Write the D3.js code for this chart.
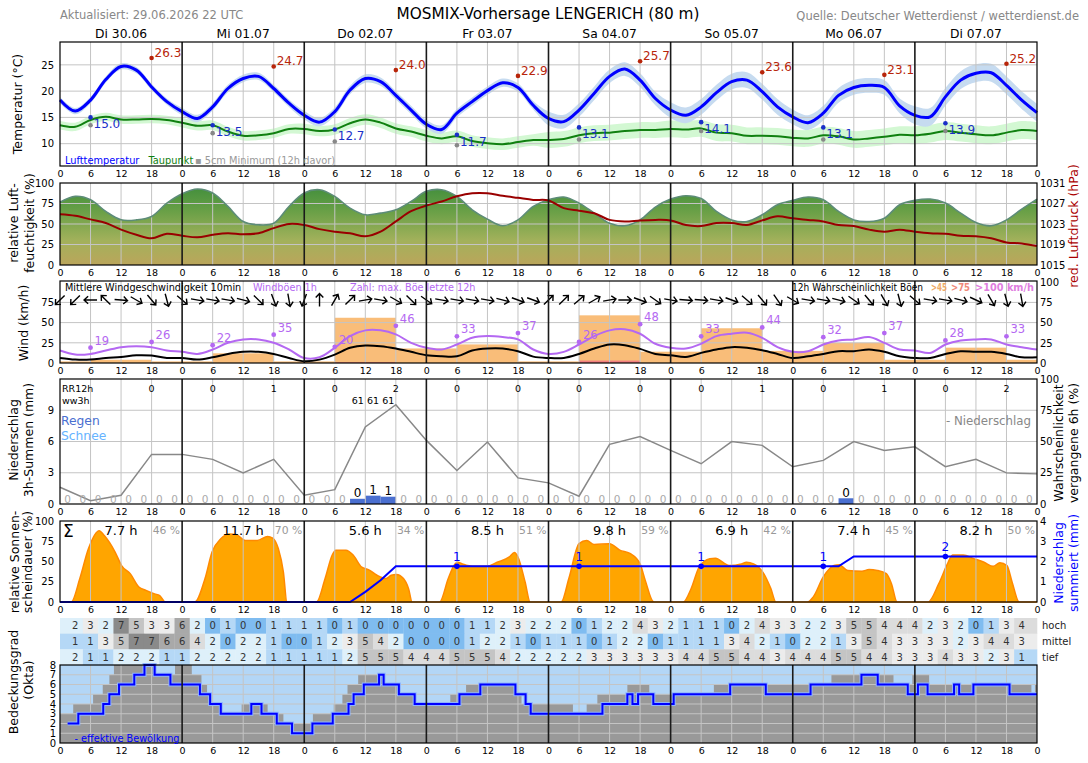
<!DOCTYPE html>
<html>
<head>
<meta charset="UTF-8">
<title>MOSMIX-Vorhersage LENGERICH</title>
<script src="https://cdn.jsdelivr.net/npm/d3@7"></script>
<style>
body { margin: 0; background: #fff; }
svg { display: block; }
</style>
</head>
<body>
<div id="chart"></div>
<script>
// ---------- data ----------
const days = ["Di 30.06", "Mi 01.07", "Do 02.07", "Fr 03.07", "Sa 04.07", "So 05.07", "Mo 06.07", "Di 07.07"];

// 3-hourly values, hour 0 .. 192
const temp = [18.3,16.2,18.3,22.2,24.7,24.0,20.8,18.0,
  16.1,14.8,17.0,20.5,22.4,22.8,20.5,17.7,
  15.4,14.1,16.1,20.2,22.4,21.8,19.2,16.4,
  13.7,12.7,15.8,18.0,20.1,21.6,20.7,17.3,
  14.8,14.2,16.4,19.6,22.8,24.2,22.1,18.6,
  16.4,15.4,17.0,19.7,21.8,22.1,19.9,17.0,
  15.1,14.0,15.8,19.2,20.7,21.1,20.7,17.2,
  15.4,15.1,18.9,22.1,23.4,23.5,21.1,18.3,
  15.9];
const tempSpread = [0.6, 0.7, 0.8, 0.8, 1.3, 1.5, 1.4, 1.7];
const dew = [13.5,13.2,14.5,15.1,14.6,14.6,14.7,14.5,
  14.0,13.4,13.5,12.3,11.5,11.6,12.0,12.8,
  12.8,12.4,12.7,13.9,14.6,14.0,12.9,12.3,
  11.5,11.0,11.4,10.5,10.1,9.9,10.3,10.7,
  10.7,10.9,11.6,12.0,12.1,12.4,12.6,12.6,
  12.8,12.7,12.9,12.1,12.0,11.5,11.5,11.4,
  11.1,11.0,11.6,11.4,10.8,11.0,11.3,11.7,
  11.6,11.9,12.4,12.1,11.8,11.6,12.1,12.6,
  12.4];
const dewSpread = [0.8, 0.9, 1.0, 1.1, 1.5, 1.6, 1.6, 1.7];
const tMax = [26.3, 24.7, 24.0, 22.9, 25.7, 23.6, 23.1, 25.2];
const tMin = [15.0, 13.5, 12.7, 11.7, 13.1, 14.1, 13.1, 13.9];
const tGround = [13.5, 12.0, 10.4, 9.7, 10.8, 12.4, 10.8, 12.4];

const humidity = [76.7,83.7,79.6,65.3,55.1,55.0,59.2,75.5,
  87.0,92.7,87.8,71.4,53.0,49.0,51.0,71.4,
  87.8,91.8,83.7,69.4,61.2,63.3,67.3,77.6,
  89.8,91.8,83.7,67.3,55.9,47.8,55.1,71.4,
  79.6,82.9,75.5,63.3,51.0,47.8,55.0,70.6,
  80.4,84.5,81.0,65.3,55.0,53.0,61.2,73.5,
  78.8,82.9,79.6,65.3,55.0,53.0,57.1,73.5,
  78.8,80.4,75.5,63.3,51.8,47.8,55.0,68.2,
  80.4];
const pressure = [1024.9,1024.6,1023.9,1023.2,1021.9,1020.9,1020.2,1021.1,
  1020.7,1020.4,1020.9,1021.2,1021.0,1021.2,1022.2,1023.0,
  1022.8,1022.0,1021.5,1021.2,1020.6,1021.5,1023.5,1025.5,
  1026.6,1027.4,1028.4,1029.0,1029.0,1028.5,1028.1,1027.7,
  1027.6,1026.1,1025.6,1025.1,1023.8,1023.5,1023.7,1023.8,
  1023.7,1022.8,1022.6,1023.2,1023.2,1022.8,1023.7,1024.5,
  1024.1,1023.8,1023.5,1022.8,1022.6,1021.9,1021.5,1021.9,
  1021.5,1021.2,1021.1,1020.7,1020.6,1020.2,1019.4,1019.2,
  1018.7];

const windMean = [6.2,4.2,4.2,6.2,7.5,9.6,9.2,6.2,
  6.2,4.2,7.1,11.2,13.8,13.8,11.2,6.2,
  2.1,4.2,10.4,18.8,21.7,20.8,17.9,13.8,
  9.6,8.3,8.3,15.4,17.9,17.9,14.6,7.9,
  6.2,6.2,11.2,17.9,22.9,22.1,17.5,11.2,
  9.6,7.5,12.5,16.7,19.6,18.8,15.8,11.2,
  6.2,8.3,11.2,14.6,14.6,16.7,13.8,8.3,
  6.2,6.2,11.2,14.6,13.8,13.8,11.2,7.1,
  7.1];
const windGust = [15.4,10.4,11.2,15.4,19.6,20.8,19.6,15.4,
  13.8,11.2,16.7,25.0,29.2,29.2,25.0,16.7,
  6.2,7.1,18.8,33.3,40.4,40.4,35.4,25.0,
  18.8,16.7,22.9,31.2,33.3,32.1,29.2,16.7,
  11.2,13.8,22.9,33.3,40.4,41.7,36.2,23.8,
  18.8,17.9,23.8,33.3,36.2,37.5,31.2,19.6,
  13.8,14.6,22.9,27.9,29.2,32.1,25.0,16.7,
  15.4,12.5,22.9,27.9,29.2,29.2,22.9,19.6,
  16.7];
// wind direction (arrow points to, degrees clockwise from north), hour 0 .. 189
const windDir = [225,225,270,315,95,120,140,165,
  130,100,100,100,105,135,160,170,
  200,0,30,45,80,100,120,135,
  125,100,100,100,100,105,110,110,
  45,45,50,60,80,90,110,125,
  100,95,95,100,110,130,140,145,
  120,100,100,105,125,140,150,165,
  130,100,100,105,115,150,165,170];
// max gust of last 12h, at hour 6, 18, 30 ...
const gustMax = [19, 26, 22, 35, 20, 46, 33, 37, 26, 48, 33, 44, 32, 37, 28, 33];
// 12h gust probability (%), periods starting at hour -6, 6, 18 ...
const gustProb45 = [2, 4, 2, 12, 2, 56, 18, 23, 2, 59, 14, 43, 15, 25, 4, 19, 4];
const gustProb75 = [0, 0, 0, 0, 0, 1, 0, 0, 0, 3, 0, 0, 0, 0, 0, 0, 0];

// precipitation probability, 6-hourly, hour 0 .. 192
const rainProb = [13.4,2.7,7,39.7,39.7,35.7,24.9,35.7,7,11.5,61.7,79.4,50.9,26.8,49.6,20.9,
  16.9,6.2,47.7,53.9,42.9,32.2,49.9,46.9,29.8,34.9,49.9,42.9,45.8,29.8,35.7,24.9,24.1];
const rainStart = [57, 60, 63, 153];
const rainAmount = [0.5, 0.8, 0.7, 0.55];
const rainLabel = ["0", "1", "1", "0"];
const rr12 = [0, 0, 1, 0, 2, 0, 0, 0, 0, 0, 1, 0, 1, 0, 2];   // at hour 18, 30, 42 ...
const ww3h = ["61", "61", "61"];                                // slots 57-60, 60-63, 63-66

// sunshine (%)
const sunH = [0,2.2,3.9,5.6,7.7,8.7,10.8,12.1,13.8,15.5,16.9,18.6,19.6,20.7,
  26.5,28.5,29.9,31.6,33.3,34.7,36.4,38.8,40.8,41.8,42.9,43.9,44.6,
  50.4,52.1,53.5,54.2,56.2,57.6,59.3,60.6,62.3,64.1,65.1,66.1,67.5,68.5,69.2,
  74.6,76.3,77.4,78.1,79.1,80.1,81.1,83.9,85.9,88.3,89.3,90,91.4,92.4,
  98.5,100,102,103.5,105,108,110,112,114,115,116.7,
  122.5,124,125.6,127.7,128.8,131.5,133.9,134.9,136.3,138.3,139.7,140.7,
  146.9,148,150,152.1,153.1,154.8,157.6,159,160.6,162.4,163.4,164.5,
  170.6,172.7,174.4,175.4,177.5,179.6,181.6,183.4,184.7,186.1,187.1,188.5,192];
const sunV = [0,0,29,66,88,82,62,45,35,18.5,14.4,10,8,0,
  0,29,62,78,84,83,76,76,81,79,66,37,0,
  0,29,58,64,64,58,43,40,33,29,33,34,29,16.5,0,
  0,29,45,49,47,45,44,44,49,55.6,61,55.6,24.7,0,
  0,29,72,76,71,72,64,60,47,27,0,
  0,16,43,53.5,54,45,47,49,47,35,16.5,0,
  0,6,31,45,46,39,38,40,39,35,22.6,0,
  0,22.6,47,58,58,53.5,49,44,48.6,45,24.7,0,0];
const sunHours = ["7.7 h", "11.7 h", "5.6 h", "8.5 h", "9.8 h", "6.9 h", "7.4 h", "8.2 h"];
const sunPct = ["46 %", "70 %", "34 %", "51 %", "59 %", "42 %", "45 %", "50 %"];
// summed precipitation (mm)
const sumH = [0, 57, 60, 63, 66, 153, 156, 192];
const sumV = [0, 0, 0.5, 1.07, 1.76, 1.76, 2.25, 2.25];
const sumDotH = [78, 102, 126, 150, 174];
const sumDotLabel = ["1", "1", "1", "1", "2"];

// cloud layers (okta) at hour 3, 6, ... 189
const cloudHigh = [2,3,2,7,5,3,3,6, 2,0,1,0,0,1,1,1, 1,0,1,0,0,0,0,0, 0,0,1,1,2,3,2,
  2,2,0,1,2,2,4,3, 2,1,1,1,0,2,4,3, 3,2,2,3,5,5,4,4, 4,2,3,2,0,1,3,4];
const cloudMid = [1,1,3,5,7,7,6,6, 4,2,0,2,2,1,0,0, 1,2,3,5,4,2,0,0, 0,0,1,2,2,1,0,
  1,1,1,0,1,2,2,0, 1,1,1,1,3,4,2,1, 0,2,2,1,3,5,4,3, 3,3,3,2,3,4,4,3];
const cloudLow = [2,1,1,2,2,2,1,1, 2,2,2,2,2,1,1,1, 1,1,2,5,5,5,4,4, 4,5,5,5,4,2,2,
  2,2,2,3,3,3,3,3, 3,4,4,5,5,4,4,3, 4,4,4,5,5,4,4,3, 3,3,4,3,3,2,3,1];
// total cloud cover steps (hour where a value starts)
const cloudTotH = [0,2.6,6.5,8.4,9.7,10.6,18.6,22.6,25.9,27.8,28.9,29.9,31.6,35.7,40.8,43.9,49.7,
  53.8,55.5,56.5,58.6,63.6,66.8,69.7,76.7,79.8,89.5,90.7,100.8,103.5,105.6,111.5,115.8,
  128.5,151.6,163.8,167.5,170.8,190.9,191.6,192];
const cloudTotV = [3,4,5,6,7,8,7,8,7,6,5,4,3,4,3,2,3,4,5,6,7,6,5,4,5,6,5,4,3,4,5,6,5,6,7,6,7,6,5,6,6];
// effective cloud cover steps
const cloudEffH = [1.5,3.6,8.5,9.7,11.6,14.6,16.6,18.6,21.7,27.5,29.5,31.6,37.6,39.6,42.6,45.6,49.6,
  53.6,56.7,57.7,59.7,62.7,63.6,66.6,69.7,78.5,82.6,89.5,91.5,92.5,106.6,111.5,112.5,113.6,116.6,
  120.6,131.7,138.7,147.5,157.5,160.7,166.6,168.6,170.5,175.7,176.7,179.5,186.6,192];
const cloudEffV = [2,3,4,5,6,7,8,7,6,5,4,3,4,3,2,1,2,3,4,5,6,7,6,5,4,5,6,5,4,3,4,5,4,5,4,
  5,6,5,6,7,6,5,6,5,6,5,6,5,5];

// ---------- layout ----------
const FONT = "DejaVu Sans, sans-serif";
const W = 1088, H = 763;
const svg = d3.select("#chart").append("svg")
  .attr("width", W).attr("height", H)
  .attr("font-family", FONT);
svg.append("rect").attr("width", W).attr("height", H).attr("fill", "#fff");

const x = d3.scaleLinear().domain([0, 192]).range([60, 1037]);
const hrs = d3.range(0, 193, 3);
const dayOf = h => Math.min(7, Math.floor(h / 24));

function txt(px, py, s, o = {}) {
  const t = svg.append("text").attr("x", px).attr("y", py).text(s)
    .attr("font-size", o.size || 10).attr("fill", o.color || "#000")
    .attr("text-anchor", o.anchor || "start")
    .attr("font-weight", o.weight || "normal");
  if (o.len) t.attr("textLength", o.len).attr("lengthAdjust", "spacingAndGlyphs");
  return t;
}
function vtxt(cx, cy, s, o = {}) {
  return svg.append("text").attr("transform", `translate(${cx},${cy}) rotate(-90)`)
    .attr("text-anchor", "middle").attr("dy", "0.35em")
    .attr("font-size", o.size || 12.5).attr("fill", o.color || "#000").text(s);
}
function vGrid(top, bottom) {
  svg.append("g").selectAll("line")
    .data(d3.range(6, 192, 6).filter(h => h % 24 !== 0)).join("line")
    .attr("x1", d => x(d)).attr("x2", d => x(d)).attr("y1", top).attr("y2", bottom)
    .attr("stroke", "#c4c4c4").attr("stroke-width", 1);
}
function hGrid(y, ticks) {
  svg.append("g").selectAll("line").data(ticks).join("line")
    .attr("x1", 60).attr("x2", 1037).attr("y1", d => y(d)).attr("y2", d => y(d))
    .attr("stroke", "#c4c4c4").attr("stroke-width", 1);
}
function dayLines(top, bottom) {
  svg.append("g").selectAll("line").data(d3.range(24, 192, 24)).join("line")
    .attr("x1", d => x(d)).attr("x2", d => x(d)).attr("y1", top).attr("y2", bottom)
    .attr("stroke", "#1a1a1a").attr("stroke-width", 1.6);
}
function frame(top, bottom) {
  svg.append("rect").attr("x", 60).attr("y", top).attr("width", 977).attr("height", bottom - top)
    .attr("fill", "none").attr("stroke", "#000").attr("stroke-width", 1.2);
}
function styleAxis(g, size) {
  g.attr("font-family", FONT).attr("font-size", size);
  g.select(".domain").remove();
  g.selectAll("text").attr("fill", "#000");
}
function hourLabels(bottom) {
  svg.append("g").attr("transform", `translate(0,${bottom})`)
    .call(d3.axisBottom(x).tickValues(d3.range(0, 193, 6)).tickFormat(d => d % 24).tickSize(0).tickPadding(4))
    .call(g => styleAxis(g, 9.5));
}
function leftTicks(y, ticks, size = 10) {
  svg.append("g").attr("transform", "translate(60,0)")
    .call(d3.axisLeft(y).tickValues(ticks).tickFormat(d3.format("d")).tickSize(0).tickPadding(6))
    .call(g => styleAxis(g, size));
}
function rightTicks(y, ticks, size = 10) {
  svg.append("g").attr("transform", "translate(1037,0)")
    .call(d3.axisRight(y).tickValues(ticks).tickFormat(d3.format("d")).tickSize(0).tickPadding(3))
    .call(g => styleAxis(g, size));
}

// ---------- header ----------
txt(60, 19, "Aktualisiert: 29.06.2026 22 UTC", {size: 11.5, color: "#888"});
txt(548, 19, "MOSMIX-Vorhersage LENGERICH (80 m)", {size: 15.3, anchor: "middle"});
txt(1079, 20, "Quelle: Deutscher Wetterdienst / wetterdienst.de", {size: 11.5, color: "#888", anchor: "end"});
days.forEach((d, i) => txt(x(24 * i + 12), 38, d, {size: 12.3, anchor: "middle"}));

// ---------- temperature ----------
const yT = d3.scaleLinear().domain([5.75, 29.35]).range([166, 42]);
const tPts = hrs.map((h, i) => ({h, t: temp[i], d: dew[i]}));
const curve = d3.curveCatmullRom.alpha(0.5);

svg.append("path").datum(tPts).attr("fill", "#d3f8d3")
  .attr("d", d3.area().curve(curve).x(p => x(p.h))
    .y0(p => yT(p.d - dewSpread[dayOf(p.h)])).y1(p => yT(p.d + dewSpread[dayOf(p.h)])));
svg.append("path").datum(tPts).attr("fill", "#c6dbf0")
  .attr("d", d3.area().curve(curve).x(p => x(p.h))
    .y0(p => yT(p.t - tempSpread[dayOf(p.h)])).y1(p => yT(p.t + tempSpread[dayOf(p.h)])));
vGrid(42, 166);
hGrid(yT, [10, 15, 20, 25]);
svg.append("path").datum(tPts).attr("fill", "none").attr("stroke", "#108010").attr("stroke-width", 2)
  .attr("d", d3.line().curve(curve).x(p => x(p.h)).y(p => yT(p.d)));
svg.append("path").datum(tPts).attr("fill", "none").attr("stroke", "#0000ff").attr("stroke-width", 3)
  .attr("d", d3.line().curve(curve).x(p => x(p.h)).y(p => yT(p.t)));

tMax.forEach((v, i) => {
  const cx = x(24 * i + 18), cy = yT(v);
  svg.append("circle").attr("cx", cx).attr("cy", cy).attr("r", 2.3).attr("fill", "#b8250a");
  txt(cx + 3, cy - 1, v.toFixed(1), {size: 12, color: "#b8250a"});
});
tGround.forEach((v, i) => {
  svg.append("circle").attr("cx", x(24 * i + 6)).attr("cy", yT(v)).attr("r", 2.3).attr("fill", "#888");
});
tMin.forEach((v, i) => {
  const cx = x(24 * i + 6), cy = yT(v);
  svg.append("circle").attr("cx", cx).attr("cy", cy).attr("r", 2.3).attr("fill", "#1a2fc8");
  txt(cx + 3, cy + 11, v.toFixed(1), {size: 12, color: "#1a2fc8"});
});
dayLines(42, 166);
frame(42, 166);
leftTicks(yT, [10, 15, 20, 25]);
hourLabels(166);
txt(65, 163.5, "Lufttemperatur", {size: 9.8, color: "#0000ff"});
txt(148.5, 163.5, "Taupunkt", {size: 9.8, color: "#108010"});
txt(195, 163.5, "\u25AA 5cm Minimum (12h davor)", {size: 9.8, color: "#999"});
vtxt(18, 104, "Temperatur (°C)");

// ---------- humidity / pressure ----------
const yH = d3.scaleLinear().domain([0, 100]).range([265, 183]);
const yP = d3.scaleLinear().domain([1015, 1031]).range([265, 183]);
const grad = svg.append("defs").append("linearGradient").attr("id", "humGrad")
  .attr("gradientUnits", "userSpaceOnUse").attr("x1", 0).attr("x2", 0).attr("y1", 183).attr("y2", 265);
[["0%", "#3c8c3a"], ["35%", "#6aa047"], ["70%", "#a2b15b"], ["100%", "#bba55b"]]
  .forEach(s => grad.append("stop").attr("offset", s[0]).attr("stop-color", s[1]));
const hPts = hrs.map((h, i) => ({h, v: humidity[i], p: pressure[i]}));
svg.append("path").datum(hPts).attr("fill", "url(#humGrad)")
  .attr("d", d3.area().curve(curve).x(p => x(p.h)).y0(265).y1(p => yH(p.v)));
vGrid(183, 265);
hGrid(yH, [25, 50, 75]);
svg.append("path").datum(hPts).attr("fill", "none").attr("stroke", "#5d8c78").attr("stroke-width", 1.6)
  .attr("d", d3.line().curve(curve).x(p => x(p.h)).y(p => yH(p.v)));
svg.append("path").datum(hPts).attr("fill", "none").attr("stroke", "#990000").attr("stroke-width", 2)
  .attr("d", d3.line().curve(curve).x(p => x(p.h)).y(p => yP(p.p)));
dayLines(183, 265);
frame(183, 265);
leftTicks(yH, [0, 25, 50, 75, 100]);
rightTicks(yP, [1015, 1019, 1023, 1027, 1031]);
hourLabels(265);
vtxt(14, 223, "relative Luft-");
vtxt(29.5, 223, "feuchtigkeit (%)");
vtxt(1074, 226, "red. Luftdruck (hPa)", {color: "#aa0000"});

// ---------- wind ----------
const yW = d3.scaleLinear().domain([0, 101.5]).range([363, 281]);
const gustPeriods = gustProb45.map((v, i) => ({a: Math.max(0, -6 + 12 * i), b: Math.min(192, 6 + 12 * i), v, r: gustProb75[i]}));
svg.append("g").selectAll("rect").data(gustPeriods).join("rect")
  .attr("x", p => x(p.a)).attr("width", p => x(p.b) - x(p.a))
  .attr("y", p => yW(p.v)).attr("height", p => 363 - yW(p.v)).attr("fill", "#f9bd79");
svg.append("g").selectAll("rect").data(gustPeriods.filter(p => p.r > 0)).join("rect")
  .attr("x", p => x(p.a)).attr("width", p => x(p.b) - x(p.a))
  .attr("y", p => yW(p.r)).attr("height", p => 363 - yW(p.r)).attr("fill", "#f08080");
vGrid(281, 363);
hGrid(yW, [25, 50, 75]);
const wPts = hrs.map((h, i) => ({h, m: windMean[i], g: windGust[i]}));
svg.append("path").datum(wPts).attr("fill", "none").attr("stroke", "#b468f2").attr("stroke-width", 2)
  .attr("d", d3.line().curve(curve).x(p => x(p.h)).y(p => yW(p.g)));
svg.append("path").datum(wPts).attr("fill", "none").attr("stroke", "#000").attr("stroke-width", 2)
  .attr("d", d3.line().curve(curve).x(p => x(p.h)).y(p => yW(p.m)));
gustMax.forEach((v, i) => {
  const cx = x(6 + 12 * i), cy = yW(v);
  svg.append("circle").attr("cx", cx).attr("cy", cy).attr("r", 2.4).attr("fill", "#b468f2");
  txt(cx + 4, cy - 3, v, {size: 11.5, color: "#b468f2"});
});
svg.append("g").selectAll("path").data(windDir).join("path")
  .attr("transform", (a, i) => `translate(${x(3 * i)},300) rotate(${a})`)
  .attr("d", "M0,6.5L0,-6.5M-3.8,-2.4L0,-6.5L3.8,-2.4")
  .attr("fill", "none").attr("stroke", "#000").attr("stroke-width", 1.4);
dayLines(281, 363);
frame(281, 363);
leftTicks(yW, [0, 25, 50, 75]);
rightTicks(yW, [0, 25, 50, 75, 100]);
hourLabels(363);
txt(65, 291, "Mittlere Windgeschwindigkeit 10min", {size: 9.7});
txt(253, 291, "Windböen 1h", {size: 9.7, color: "#b468f2"});
txt(350, 291, "Zahl: max. Böe letzte 12h", {size: 9.7, color: "#b468f2"});
txt(792, 291, "12h Wahrscheinlichkeit Böen", {size: 9.7, len: 131});
txt(931, 291, ">45", {size: 9.7, color: "#eeaa66", weight: "bold", len: 16});
txt(951, 291, ">75", {size: 9.7, color: "#f08a7a", weight: "bold", len: 19});
txt(975, 291, ">100 km/h", {size: 9.7, color: "#e07ee0", weight: "bold", len: 59});
vtxt(24, 323, "Wind (km/h)");

// ---------- precipitation ----------
const yR = d3.scaleLinear().domain([0, 12]).range([504, 379]);
const yPr = d3.scaleLinear().domain([0, 100]).range([504, 379]);
const rainBars = rainStart.map((h, i) => ({h, v: rainAmount[i], l: rainLabel[i]}));
svg.append("g").selectAll("rect").data(rainBars).join("rect")
  .attr("x", b => x(b.h)).attr("width", b => x(b.h + 3) - x(b.h))
  .attr("y", b => yR(b.v)).attr("height", b => 504 - yR(b.v)).attr("fill", "#4a6fd0");
vGrid(379, 504);
hGrid(yR, [3, 6, 9]);
svg.append("path").datum(rainProb).attr("fill", "none").attr("stroke", "#888").attr("stroke-width", 1.5)
  .attr("d", d3.line().x((v, i) => x(6 * i)).y(v => yPr(v)));
svg.append("g").selectAll("text").data(d3.range(64).filter(s => !rainStart.includes(3 * s))).join("text")
  .attr("x", s => x(3 * s + 1.5)).attr("y", 503).attr("text-anchor", "middle")
  .attr("font-size", 10.5).attr("fill", "#aaa").text("0");
rainBars.forEach(b => txt(x(b.h + 1.5), yR(b.v) - 1.5, b.l, {size: 12, anchor: "middle"}));
rr12.forEach((v, i) => txt(x(18 + 12 * i), 392, v, {size: 9.5, anchor: "middle"}));
ww3h.forEach((v, i) => txt(x(58.5 + 3 * i), 403.5, v, {size: 9.5, anchor: "middle"}));
txt(62, 392, "RR12h", {size: 9.5});
txt(62, 403.5, "ww3h", {size: 9.5});
txt(61, 424.5, "Regen", {size: 12.3, color: "#4a6fd0"});
txt(61, 439.5, "Schnee", {size: 12.3, color: "#66b3ff"});
txt(1031, 424.5, "- Niederschlag", {size: 11.8, color: "#888", anchor: "end"});
dayLines(379, 504);
frame(379, 504);
leftTicks(yR, [0, 3, 6, 9]);
rightTicks(yPr, [0, 25, 50, 75, 100]);
hourLabels(504);
vtxt(14, 440, "Niederschlag");
vtxt(28.5, 440, "3h-Summen (mm)");
vtxt(1059, 443, "Wahrscheinlichkeit");
vtxt(1074, 443, "vergangene 6h (%)");

// ---------- sunshine ----------
const yS = d3.scaleLinear().domain([0, 100]).range([602, 521]);
const ySum = d3.scaleLinear().domain([0, 4]).range([602, 521]);
const sPts = sunH.map((h, i) => ({h, v: sunV[i]}));
svg.append("path").datum(sPts).attr("fill", "#ffa500").attr("stroke", "#ff8a00").attr("stroke-width", 1.5)
  .attr("d", d3.area().curve(d3.curveMonotoneX).x(p => x(p.h)).y0(602).y1(p => yS(p.v)));
vGrid(521, 602);
const sumPts = sumH.map((h, i) => ({h, v: sumV[i]}));
const sumAt = h => sumV[d3.bisectRight(sumH, h) - 1];
svg.append("path").datum(sumPts).attr("fill", "none").attr("stroke", "#0000ff").attr("stroke-width", 2)
  .attr("d", d3.line().x(p => x(p.h)).y(p => ySum(p.v)));
sumDotH.forEach((h, i) => {
  const cy = ySum(sumAt(h));
  svg.append("circle").attr("cx", x(h)).attr("cy", cy).attr("r", 2.8).attr("fill", "#0000ff");
  txt(x(h), cy - 5, sumDotLabel[i], {size: 12, color: "#0000ff", anchor: "middle"});
});
sunHours.forEach((s, i) => {
  txt(x(24 * i + 12), 534.5, s, {size: 13, anchor: "middle"});
  txt(x(24 * i + 24) - 2, 533.5, sunPct[i], {size: 10.8, color: "#999", anchor: "end"});
});
txt(63, 537, "\u03A3", {size: 17});
dayLines(521, 602);
frame(521, 602);
leftTicks(yS, [0, 25, 50, 75, 100]);
rightTicks(ySum, [0, 1, 2, 3, 4]);
hourLabels(602);
vtxt(14.5, 562, "relative Sonnen-");
vtxt(28, 562, "scheindauer (%)");
vtxt(1059, 563, "Niederschlag", {color: "#0000ff"});
vtxt(1074, 563, "summiert (mm)", {color: "#0000ff"});

// ---------- cloud layer table ----------
const cloudColor = ["#7fbcf0", "#b5d8f6", "#def0fa", "#ececec", "#dcdcdc", "#c4c4c4", "#a9a9a9", "#8a8a8a", "#707070"];
const rows = [{name: "hoch", vals: cloudHigh}, {name: "mittel", vals: cloudMid}, {name: "tief", vals: cloudLow}];
const rowTop = 618, rowH = 15.67;
rows.forEach((r, ri) => {
  const y0 = rowTop + ri * rowH;
  const n = r.vals.length;
  const g = svg.append("g");
  g.selectAll("rect").data(r.vals).join("rect")
    .attr("x", (v, i) => x(i === 0 ? 0 : 3 * (i + 1) - 1.5))
    .attr("width", (v, i) => x(i === n - 1 ? 192 : 3 * (i + 1) + 1.5) - x(i === 0 ? 0 : 3 * (i + 1) - 1.5) + 0.3)
    .attr("y", y0).attr("height", rowH + 0.3).attr("fill", v => cloudColor[v]);
  g.selectAll("text").data(r.vals).join("text")
    .attr("x", (v, i) => x(3 * (i + 1))).attr("y", y0 + rowH / 2 + 3.6)
    .attr("text-anchor", "middle").attr("font-size", 10).attr("fill", "#333").text(v => v);
  txt(1042, y0 + rowH / 2 + 3.5, r.name, {size: 10, color: "#222"});
});

// ---------- cloud cover ----------
const yC = d3.scaleLinear().domain([0, 8]).range([743, 665]);
svg.append("rect").attr("x", 60).attr("y", 665).attr("width", 977).attr("height", 78).attr("fill", "#b3d6f6");
const totPts = cloudTotH.map((h, i) => ({h, v: cloudTotV[i]}));
svg.append("path").datum(totPts).attr("fill", "#999")
  .attr("d", d3.area().curve(d3.curveStepAfter).x(p => x(p.h)).y0(743).y1(p => yC(p.v)));
vGrid(665, 743);
hGrid(yC, [1, 2, 3, 4, 5, 6, 7]);
const effPts = cloudEffH.map((h, i) => ({h, v: cloudEffV[i]}));
const effLine = d3.line().curve(d3.curveStepAfter).x(p => x(p.h)).y(p => yC(p.v));
svg.append("path").datum(effPts).attr("fill", "none").attr("stroke", "#8fb4ff").attr("stroke-width", 4).attr("d", effLine);
svg.append("path").datum(effPts).attr("fill", "none").attr("stroke", "#0000ff").attr("stroke-width", 2).attr("d", effLine);
dayLines(665, 743);
frame(665, 743);
svg.append("g").attr("transform", "translate(60,0)")
  .call(d3.axisLeft(yC).tickValues(d3.range(0, 9)).tickSize(0).tickPadding(4))
  .call(g => styleAxis(g, 10));
hourLabels(743);
txt(74.5, 741.5, "- effektive Bewölkung", {size: 9.7, color: "#0000ff"});
vtxt(14, 682, "Bedeckungsgrad");
vtxt(29, 680, "(Okta)");
</script>
</body>
</html>
